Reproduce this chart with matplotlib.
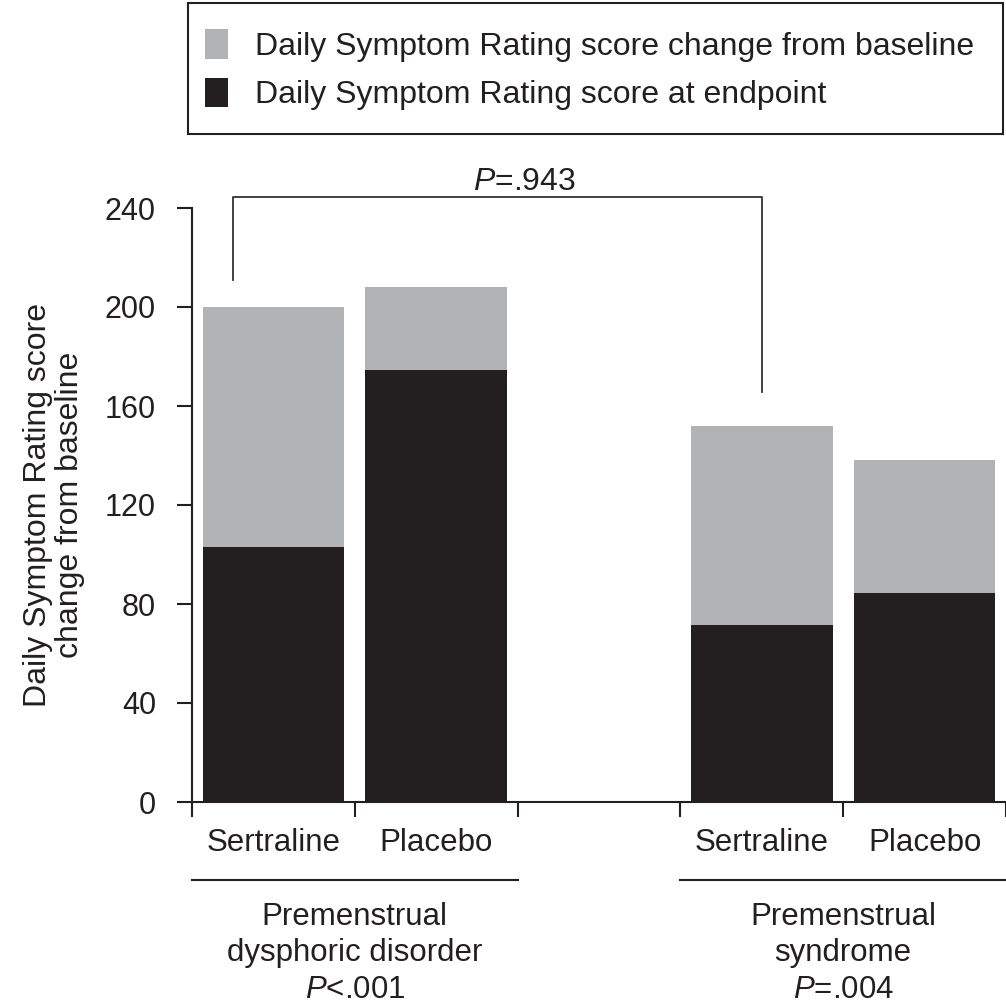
import numpy as np
import matplotlib
matplotlib.use("Agg")
import matplotlib.pyplot as plt
from matplotlib.patches import Patch, Rectangle
from matplotlib.lines import Line2D

plt.rcParams['font.family'] = ['Liberation Sans', 'DejaVu Sans']
plt.rcParams['mathtext.fontset'] = 'custom'
plt.rcParams['mathtext.rm'] = 'Liberation Sans'
plt.rcParams['mathtext.it'] = 'Liberation Sans:italic'

# data
treatments = ['Sertraline', 'Placebo', 'Sertraline', 'Placebo']
slots = [0.5, 1.5, 3.5, 4.5]
endpoint = [103, 174.5, 71.5, 84.5]
change = [97, 33.5, 80.5, 53.5]
groups = [['Premenstrual', 'dysphoric disorder', '$P$<.001'],
          ['Premenstrual', 'syndrome', '$P$=.004']]
group_centers = [1.0, 4.0]
yticks = [0, 40, 80, 120, 160, 200, 240]

gray = '#b2b3b5'
dark = '#231f20'
fs = 22.5

fig = plt.figure(figsize=(10.06, 10.08), dpi=100)
ax = fig.add_axes([192 / 1006, 1 - 802 / 1008, 814 / 1006, 594 / 1008])

ax.bar(slots, endpoint, width=0.87, color=dark, zorder=2)
ax.bar(slots, change, width=0.87, bottom=endpoint, color=gray, zorder=2)

ax.set_xlim(0, 5)
ax.set_ylim(0, 240)
ax.set_yticks(yticks)
ax.set_xticks([0, 1, 2, 3, 4, 5])
ax.set_xticklabels([])
for s in ['top', 'right']:
    ax.spines[s].set_visible(False)
for s in ['left', 'bottom']:
    ax.spines[s].set_linewidth(1.5)
    ax.spines[s].set_color(dark)
ax.tick_params(axis='both', direction='out', length=11, width=1.5, color=dark,
               labelsize=22, labelcolor=dark)
ax.tick_params(axis='y', pad=15)

tr = ax.get_xaxis_transform()
for x, t in zip(slots, treatments):
    ax.text(x, -0.069, t, transform=tr, ha='center', va='center',
            fontsize=fs, color=dark)

for (a, b) in [(0, 2), (3, 5)]:
    ax.add_line(Line2D([a, b], [-0.131, -0.131], transform=tr, color=dark,
                       lw=1.5, clip_on=False))

for xc, lines in zip(group_centers, groups):
    for yy, line in zip([-0.194, -0.254, -0.316], lines):
        ax.text(xc, yy, line, transform=tr, ha='center', va='center',
                fontsize=fs, color=dark)

# bracket
ax.plot([0.25, 0.25, 3.5, 3.5], [211, 244.4, 244.4, 165.7], color='#333333',
        lw=1.3, clip_on=False)
ax.text(2.04, 250.5, '$P$=.943', ha='center', va='center', fontsize=23,
        color=dark)

fig.text(54 / 1006, 1 - 505 / 1008,
         'Daily Symptom Rating score\nchange from baseline',
         rotation=90, ha='center', va='center', multialignment='center',
         fontsize=23, color=dark, linespacing=1.1)

# legend box
fig.patches.append(Rectangle((188 / 1006, 1 - 134 / 1008), 815 / 1006, 131 / 1008,
                             transform=fig.transFigure, facecolor='none',
                             edgecolor=dark, lw=1.5))
handles = [Patch(facecolor=gray, edgecolor='none'),
           Patch(facecolor=dark, edgecolor='none')]
labels = ['Daily Symptom Rating score change from baseline',
          'Daily Symptom Rating score at endpoint']
leg = fig.legend(handles, labels, loc='upper left',
                 bbox_to_anchor=(205 / 1006, 1 - 29 / 1008),
                 fontsize=23, frameon=False,
                 handlelength=0.72, handleheight=1.05, handletextpad=0.85,
                 labelspacing=0.5, borderpad=0, borderaxespad=0)
for t in leg.get_texts():
    t.set_color(dark)

fig.savefig('out.png', dpi=100)
